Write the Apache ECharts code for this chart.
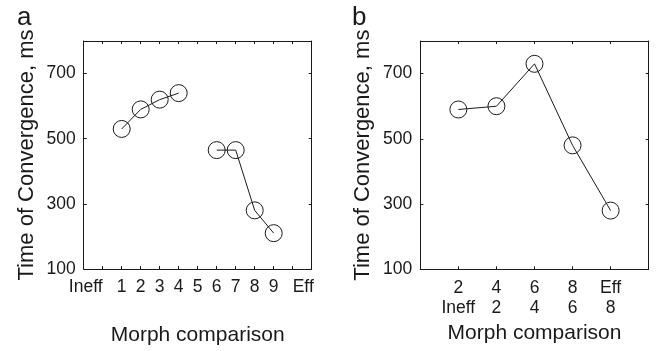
<!DOCTYPE html>
<html>
<head>
<meta charset="utf-8">
<script src="https://cdn.jsdelivr.net/npm/echarts@6/dist/echarts.min.js"></script>
<style>
  html, body { margin: 0; padding: 0; background: #fff; }
  #chart { width: 658px; height: 351px; }
</style>
</head>
<body>
<div id="chart"></div>
<script>
// panel a: single morph levels (Ineff = 0, Eff = 10)
const morphA = [1, 2, 3, 4, 5, 6, 7, 8, 9];
const timeA = [530, 590, 620, 640, null, 465, 465, 280, 210];
const tickLabelsA = ['Ineff', '1', '2', '3', '4', '5', '6', '7', '8', '9', 'Eff'];

// panel b: compared pairs
const pairsB = [1, 2, 3, 4, 5];
const upperB = ['2', '4', '6', '8', 'Eff'];
const lowerB = ['Ineff', '2', '4', '6', '8'];
const timeB = [590, 600, 730, 480, 280];

const yTicks = [100, 300, 500, 700];

const FONT = "'Liberation Sans', Arial, Helvetica, sans-serif";
const INK = '#1a1a1a';

const chart = echarts.init(document.getElementById('chart'));

// frame axes (top / right) - ticks only
function frameX(gridIndex, min, max, position) {
  return {
    gridIndex: gridIndex, type: 'value', position: position,
    min: min, max: max, interval: 1,
    axisLine: { show: true, onZero: false, lineStyle: { color: INK, width: 1 } },
    axisTick: { show: true, inside: true, length: 3, lineStyle: { color: INK } },
    axisLabel: { show: false },
    splitLine: { show: false }
  };
}
function frameY(gridIndex) {
  return {
    gridIndex: gridIndex, type: 'value', position: 'right',
    min: 100, max: 800, interval: 200,
    axisLine: { show: true, onZero: false, lineStyle: { color: INK, width: 1 } },
    axisTick: { show: true, inside: true, length: 3, lineStyle: { color: INK } },
    axisLabel: { show: false },
    splitLine: { show: false }
  };
}
function mainY(gridIndex) {
  return {
    gridIndex: gridIndex, type: 'value', position: 'left',
    min: 100, max: 800, interval: 200,
    name: 'Time of Convergence, ms',
    nameLocation: 'middle', nameGap: 46,
    nameTextStyle: { fontFamily: FONT, fontSize: 22, color: INK },
    axisLine: { show: true, onZero: false, lineStyle: { color: INK, width: 1 } },
    axisTick: { show: true, inside: true, length: 3, lineStyle: { color: INK } },
    axisLabel: {
      margin: 8, fontFamily: FONT, fontSize: 17.5, color: INK,
      formatter: function (v) { return yTicks.indexOf(v) >= 0 ? String(v) : ''; }
    },
    splitLine: { show: false }
  };
}

function seriesOf(xIdx, yIdx, xs, ys) {
  return {
    type: 'line',
    xAxisIndex: xIdx, yAxisIndex: yIdx,
    data: xs.map(function (x, i) { return [x, ys[i] == null ? '-' : ys[i]]; }),
    symbol: 'circle', symbolSize: 17, showAllSymbol: true,
    lineStyle: { color: INK, width: 1 },
    itemStyle: { color: 'transparent', borderColor: INK, borderWidth: 1 },
    emphasis: { disabled: true },
    animation: false
  };
}

const option = {
  backgroundColor: '#fff',
  animation: false,
  grid: [
    { left: 83.7, top: 41, width: 228, height: 228.3 },
    { left: 420.3, top: 41, width: 228.4, height: 228.3 }
  ],
  xAxis: [
    {
      gridIndex: 0, type: 'value', position: 'bottom',
      min: -1, max: 11, interval: 1,
      name: 'Morph comparison', nameLocation: 'middle', nameGap: 56,
      nameTextStyle: { fontFamily: FONT, fontSize: 21, color: INK },
      axisLine: { show: true, onZero: false, lineStyle: { color: INK, width: 1 } },
      axisTick: { show: true, inside: true, length: 3, lineStyle: { color: INK } },
      axisLabel: {
        margin: 9, fontFamily: FONT, fontSize: 17.5, color: INK,
        formatter: function (v) {
          if (v === 0) return '{l|' + tickLabelsA[0] + '}';
          if (v === 10) return '{r|' + tickLabelsA[10] + '}';
          return v > 0 && v < 10 ? tickLabelsA[v] : '';
        },
        rich: {
          l: { fontFamily: FONT, fontSize: 17.5, color: INK, padding: [0, 34, 0, 0] },
          r: { fontFamily: FONT, fontSize: 17.5, color: INK, padding: [0, 0, 0, 21] }
        }
      },
      splitLine: { show: false }
    },
    frameX(0, -1, 11, 'top'),
    {
      gridIndex: 1, type: 'value', position: 'bottom',
      min: 0, max: 6, interval: 1,
      name: 'Morph comparison', nameLocation: 'middle', nameGap: 44,
      nameTextStyle: { fontFamily: FONT, fontSize: 21, color: INK },
      axisLine: { show: true, onZero: false, lineStyle: { color: INK, width: 1 } },
      axisTick: { show: true, inside: true, length: 3, lineStyle: { color: INK } },
      axisLabel: {
        margin: 9, fontFamily: FONT, fontSize: 17.5, color: INK, lineHeight: 20,
        formatter: function (v) {
          const i = pairsB.indexOf(v);
          return i >= 0 ? upperB[i] + '\n' + lowerB[i] : '';
        }
      },
      splitLine: { show: false }
    },
    frameX(1, 0, 6, 'top')
  ],
  yAxis: [
    mainY(0),
    frameY(0),
    mainY(1),
    frameY(1)
  ],
  series: [
    seriesOf(0, 0, morphA, timeA),
    seriesOf(2, 2, pairsB, timeB)
  ],
  graphic: [
    { type: 'text', x: 17, y: 18, style: { text: 'a', fontFamily: FONT, fontSize: 26, fill: INK, verticalAlign: 'middle' } },
    { type: 'text', x: 352, y: 18, style: { text: 'b', fontFamily: FONT, fontSize: 26, fill: INK, verticalAlign: 'middle' } }
  ]
};

chart.setOption(option);
window.addEventListener('resize', function () { chart.resize(); });
</script>
</body>
</html>
